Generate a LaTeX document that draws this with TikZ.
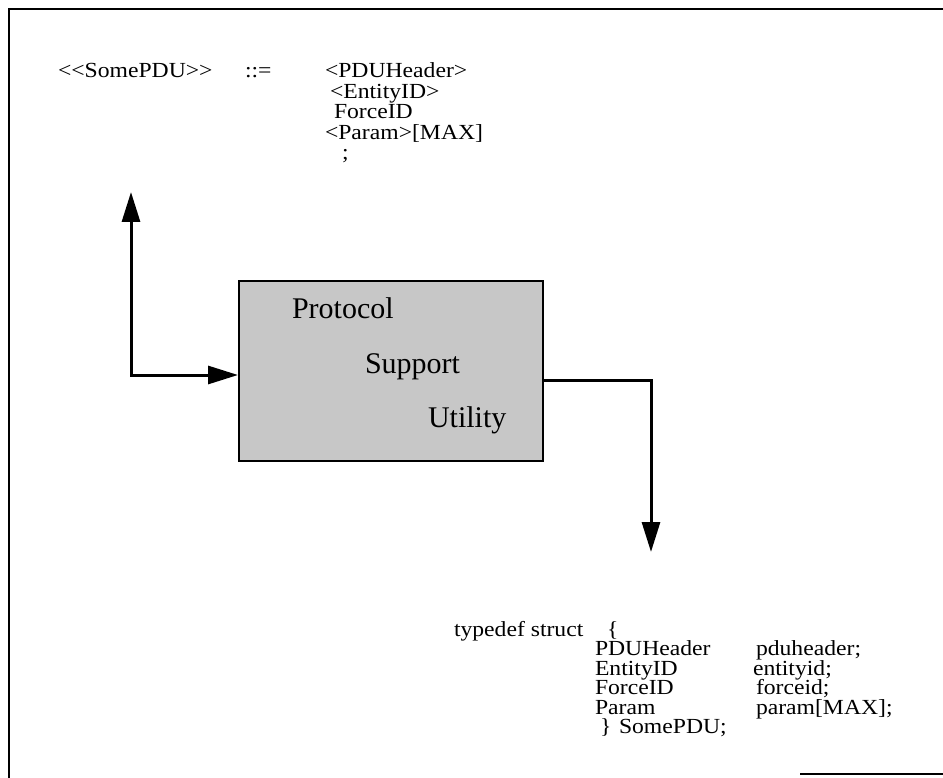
\documentclass[tikz,border=0pt]{standalone}
\usepackage{fontspec}
\setmainfont{Liberation Serif}
\newfontfamily\widefont[FakeStretch=1.1]{Liberation Serif}
\usetikzlibrary{arrows.meta}
\begin{document}
\begin{tikzpicture}[x=1pt,y=-1pt,
  txt/.style={inner sep=0pt,outer sep=0pt,anchor=base west,font=\widefont\fontsize{21.5}{20}\selectfont},
  stxt/.style={inner sep=0pt,outer sep=0pt,anchor=base west,font=\widefont\fontsize{21.5}{19}\selectfont},
  boxtxt/.style={inner sep=0pt,outer sep=0pt,anchor=base west,font=\fontsize{30}{30}\selectfont},
  arr/.style={line width=3pt,-{Triangle[length=30pt,width=18pt]}},
  dbl/.style={line width=3pt,{Triangle[length=30pt,width=18pt]}-{Triangle[length=30pt,width=18pt]}},
  frame/.style={line width=2pt,line cap=rect}
]
\useasboundingbox (0,0) rectangle (943,778);
% frame
\coordinate (fbl) at (9,778);
\coordinate (ftl) at (9,9);
\coordinate (ftr) at (943,9);
\draw[frame] (fbl) -- (ftl) -- (ftr);
\coordinate (bl1) at (800,774);
\coordinate (bl2) at (943,774);
\draw[line width=1.2pt] (bl1) -- (bl2);
% top grammar text
\node[txt] (somepdu) at (58,78) {<{}<SomePDU>{}>};
\node[txt] (defs) at (245,78) {::=};
\node[txt] (g1) at (325,78) {<PDUHeader>};
\node[txt] (g2) at (330,98.5) {<EntityID>};
\node[txt] (g3) at (334,119) {ForceID};
\node[txt] (g4) at (325,139.5) {<Param>[MAX]};
\node[txt] (g5) at (342,160) {;};
% central box
\node[draw,line width=2pt,fill=black!22,minimum width=304pt,minimum height=180pt,inner sep=0pt] (psu) at (391,371) {};
\node[boxtxt] (t1) at (292,319) {Protocol};
\node[boxtxt] (t2) at (365,373) {Support};
\node[boxtxt] (t3) at (428,427) {Utility};
% left connector
\coordinate (tipup) at (131,192);
\coordinate (corner) at (131,375);
\draw[dbl] (tipup) -- (corner) -- (psu.west |- corner);
% right connector
\coordinate (bend) at (651,380);
\coordinate (tipdown) at (651,552);
\draw[arr] (psu.east |- bend) -- (bend) -- (tipdown);
% struct text
\node[stxt] (s0) at (454,636) {typedef struct};
\node[stxt] (s0b) at (607,636) {\{};
\node[stxt] (s1a) at (595,655.5) {PDUHeader};
\node[stxt] (s1b) at (756,655.5) {pduheader;};
\node[stxt] (s2a) at (595,675) {EntityID};
\node[stxt] (s2b) at (753,675) {entityid;};
\node[stxt] (s3a) at (595,694.5) {ForceID};
\node[stxt] (s3b) at (756,694.5) {forceid;};
\node[stxt] (s4a) at (595,714) {Param};
\node[stxt] (s4b) at (756,714) {param[MAX];};
\node[stxt] (s5a) at (600,733.5) {\}};
\node[stxt] (s5b) at (619,733.5) {SomePDU;};
\end{tikzpicture}
\end{document}
